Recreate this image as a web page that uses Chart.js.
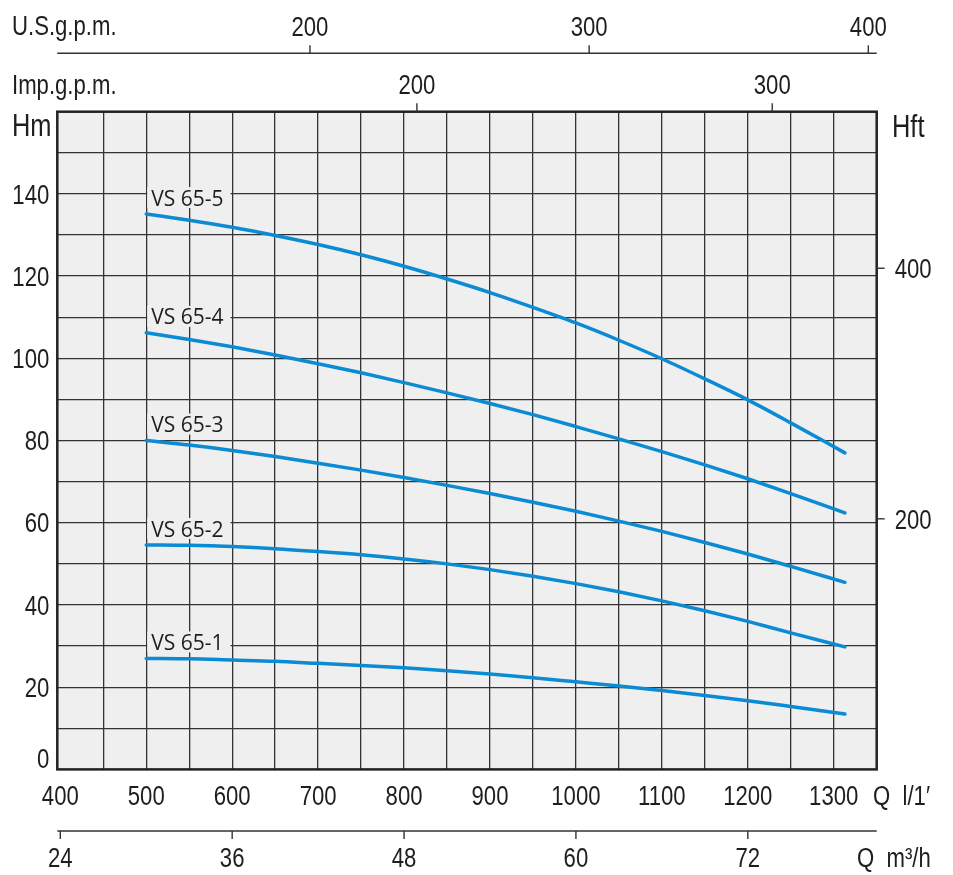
<!DOCTYPE html>
<html>
<head>
<meta charset="utf-8">
<script src="https://cdn.jsdelivr.net/npm/chart.js@4.4.1/dist/chart.umd.min.js"></script>
<style>
  html, body { margin: 0; padding: 0; background: #fff; }
  canvas { display: block; }
</style>
</head>
<body>
<canvas id="pumpChart" width="953" height="875" style="width:953px;height:875px"></canvas>
<script>
// flow points (l/min)
const flow = [500, 550, 600, 650, 700, 750, 800, 850, 900, 950, 1000, 1050, 1100, 1150, 1200, 1250, 1313];

// head in metres for each pump model
const vs65_1 = [27.0, 26.9, 26.6, 26.3, 25.8, 25.3, 24.7, 24.0, 23.2, 22.3, 21.3, 20.3, 19.2, 18.0, 16.7, 15.3, 13.5];
const vs65_2 = [54.6, 54.5, 54.2, 53.7, 53.0, 52.2, 51.2, 50.0, 48.6, 47.0, 45.2, 43.2, 41.0, 38.6, 36.0, 33.2, 29.8];
const vs65_3 = [80.0, 78.9, 77.6, 76.1, 74.5, 72.8, 71.0, 69.1, 67.1, 65.0, 62.8, 60.4, 57.9, 55.2, 52.4, 49.4, 45.5];
const vs65_4 = [106.2, 104.6, 102.8, 100.8, 98.7, 96.5, 94.1, 91.6, 89.0, 86.3, 83.4, 80.4, 77.3, 74.1, 70.7, 67.1, 62.4];
const vs65_5 = [135.1, 133.6, 131.9, 129.9, 127.7, 125.2, 122.4, 119.3, 116.0, 112.4, 108.6, 104.4, 99.9, 95.0, 89.9, 84.3, 77.0];

const seriesNames = ['VS 65-1', 'VS 65-2', 'VS 65-3', 'VS 65-4', 'VS 65-5'];
const seriesValues = [vs65_1, vs65_2, vs65_3, vs65_4, vs65_5];

// tick labels of the axes
const lpmLabels = [400, 500, 600, 700, 800, 900, 1000, 1100, 1200, 1300];
const lpmGrid = [450, 500, 550, 600, 650, 700, 750, 800, 850, 900, 950, 1000, 1050, 1100, 1150, 1200, 1250, 1300];
const hmLabels = [0, 20, 40, 60, 80, 100, 120, 140];
const hmGrid = [10, 20, 30, 40, 50, 60, 70, 80, 90, 100, 110, 120, 130, 140, 150];
const m3hLabels = [24, 36, 48, 60, 72];
const usgpmLabels = [200, 300, 400];
const impgpmLabels = [200, 300];
const hftLabels = [200, 400];

const NUM_FONT = '"Liberation Sans", Arimo, "DejaVu Sans", sans-serif';
const LABEL_FONT = '"Open Sans", "Noto Sans", sans-serif';
const TEXT = '#1e1e1e';
const LINE = '#333333';
const BLUE = '#0b8bd3';

// write text with its vertical centre at y; squeeze makes the narrow look of the original
function say(ctx, str, x, y, size, align, family, squeeze) {
    const k = squeeze || 0.82;
    ctx.save();
    ctx.translate(x, y + size * 0.36);
    ctx.scale(k, 1);
    ctx.font = size + 'px ' + (family || NUM_FONT);
    ctx.textAlign = align || 'center';
    ctx.textBaseline = 'alphabetic';
    ctx.fillText(str, 0, 0);
    ctx.restore();
}

const frame = {
    id: 'frame',
    beforeDraw(chart) {
        const a = chart.chartArea, ctx = chart.ctx;
        ctx.save();
        ctx.fillStyle = '#efefef';
        ctx.fillRect(a.left, a.top, a.right - a.left, a.bottom - a.top);
        ctx.restore();
    },
    afterDatasetsDraw(chart) {
        // curve names, boxed over the grid
        const ctx = chart.ctx;
        ctx.save();
        chart.data.datasets.forEach((ds, i) => {
            const p = chart.getDatasetMeta(i).data[0];
            const cy = p.y - 16.5;
            ctx.font = '21px ' + LABEL_FONT;
            const w = ctx.measureText(ds.label).width;
            ctx.fillStyle = '#efefef';
            ctx.fillRect(p.x + 1, cy - 10.5, w + 11, 21);
            ctx.fillStyle = TEXT;
            say(ctx, ds.label, p.x + 5, cy + 0.5, 21, 'left', LABEL_FONT, 1);
        });
        ctx.restore();
    },
    afterDraw(chart) {
        const a = chart.chartArea, ctx = chart.ctx, s = chart.scales;
        ctx.save();

        // plot frame
        ctx.strokeStyle = '#222';
        ctx.lineWidth = 2.5;
        ctx.strokeRect(a.left, a.top, a.right - a.left, a.bottom - a.top);

        ctx.fillStyle = TEXT;
        ctx.strokeStyle = LINE;
        ctx.lineWidth = 1.4;

        // left head axis (m)
        hmLabels.forEach(v => {
            const y = v === 0 ? s.y.getPixelForValue(v) - 11 : s.y.getPixelForValue(v);
            say(ctx, String(v), a.left - 8, y, 27, 'right');
        });
        say(ctx, 'Hm', 12, 125, 31, 'left');

        // right head axis (ft)
        hftLabels.forEach(v => {
            const y = s.hft.getPixelForValue(v);
            ctx.beginPath();
            ctx.moveTo(a.right, y);
            ctx.lineTo(a.right + 8, y);
            ctx.stroke();
            say(ctx, String(v), a.right + 18, y, 27, 'left');
        });
        say(ctx, 'Hft', 892, 126, 31, 'left');

        // bottom flow axis (l/min)
        lpmLabels.forEach(v => {
            say(ctx, String(v), s.x.getPixelForValue(v), 795, 27, 'center');
        });
        say(ctx, 'Q  l/1\u2032', 873, 795, 27, 'left');

        // second bottom axis (m3/h)
        const yM = 831;
        ctx.beginPath();
        ctx.moveTo(a.left, yM);
        ctx.lineTo(a.right, yM);
        ctx.stroke();
        m3hLabels.forEach(v => {
            const x = s.m3h.getPixelForValue(v);
            ctx.beginPath();
            ctx.moveTo(x, yM);
            ctx.lineTo(x, yM + 8);
            ctx.stroke();
            say(ctx, String(v), x, 857, 27, 'center');
        });
        say(ctx, 'Q  m\u00b3/h', 857, 857, 27, 'left');

        // top axis US gallons
        const yU = 53.3;
        ctx.beginPath();
        ctx.moveTo(a.left, yU);
        ctx.lineTo(a.right, yU);
        ctx.stroke();
        usgpmLabels.forEach(v => {
            const x = s.usg.getPixelForValue(v);
            ctx.beginPath();
            ctx.moveTo(x, yU);
            ctx.lineTo(x, yU - 8);
            ctx.stroke();
            say(ctx, String(v), x, 26.5, 27, 'center');
        });
        say(ctx, 'U.S.g.p.m.', 12, 25.5, 27, 'left');

        // top axis imperial gallons, sitting on the frame
        impgpmLabels.forEach(v => {
            const x = s.imp.getPixelForValue(v);
            ctx.beginPath();
            ctx.moveTo(x, a.top);
            ctx.lineTo(x, a.top - 8.5);
            ctx.stroke();
            say(ctx, String(v), x, 84.5, 27, 'center');
        });
        say(ctx, 'Imp.g.p.m.', 12, 84, 27, 'left');

        ctx.restore();
    }
};

const ctx = document.getElementById('pumpChart').getContext('2d');

new Chart(ctx, {
    type: 'line',
    data: {
        datasets: seriesNames.map((name, i) => ({
            label: name,
            data: flow.map((q, j) => ({ x: q, y: seriesValues[i][j] })),
            borderColor: BLUE,
            borderWidth: 3.5,
            borderCapStyle: 'round',
            pointRadius: 0,
            cubicInterpolationMode: 'monotone',
            fill: false
        }))
    },
    options: {
        responsive: false,
        animation: false,
        devicePixelRatio: 1,
        layout: { padding: { left: 57.3, right: 76.3, top: 111.7, bottom: 105.6 } },
        plugins: {
            legend: { display: false },
            tooltip: { enabled: false }
        },
        scales: {
            x: {
                type: 'linear',
                position: 'bottom',
                min: 396.5,
                max: 1350,
                afterBuildTicks: sc => { sc.ticks = lpmGrid.map(v => ({ value: v })); },
                ticks: { display: false },
                grid: { color: LINE, lineWidth: 1.3, drawTicks: false },
                border: { display: false }
            },
            y: {
                type: 'linear',
                position: 'left',
                min: 0,
                max: 160,
                afterBuildTicks: sc => { sc.ticks = hmGrid.map(v => ({ value: v })); },
                ticks: { display: false },
                grid: { color: LINE, lineWidth: 1.3, drawTicks: false },
                border: { display: false }
            },
            // secondary unit scales, only used for placing the drawn ticks
            usg: { type: 'linear', axis: 'x', position: 'top', display: false, min: 109.5, max: 403.0 },
            imp: { type: 'linear', axis: 'x', position: 'top', display: false, min: 98.8, max: 329.4 },
            m3h: { type: 'linear', axis: 'x', position: 'bottom', display: false, min: 396.5 / 16.6667, max: 1350 / 16.6667 },
            hft: { type: 'linear', axis: 'y', position: 'right', display: false, min: 0, max: 160 / 0.3048 }
        }
    },
    plugins: [frame]
});
</script>
</body>
</html>
